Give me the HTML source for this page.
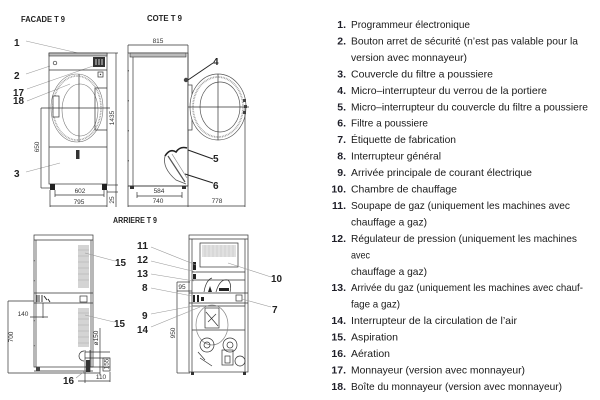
<!DOCTYPE html>
<html><head><meta charset="utf-8"><style>
html,body{margin:0;padding:0;background:#fff;}
svg{display:block;}
.t{font-family:"Liberation Sans",sans-serif;font-size:10.5px;fill:#1a1a1a;}
.n{font-family:"Liberation Sans",sans-serif;font-size:10.5px;font-weight:bold;fill:#1e1e28;}
.lb{font-family:"Liberation Sans",sans-serif;font-size:10px;font-weight:bold;fill:#222;}
.ti{font-family:"Liberation Sans",sans-serif;font-size:8px;font-weight:bold;fill:#222;}
.d{font-family:"Liberation Sans",sans-serif;font-size:6.5px;fill:#333;}
.s{stroke:#333;stroke-width:0.7;fill:none;}
.sw{stroke:#333;stroke-width:0.7;fill:#fff;}
.g{stroke:#999;stroke-width:0.6;fill:none;}
.k{stroke:#222;stroke-width:1;fill:none;}
</style></head><body>
<svg width="600" height="400" viewBox="0 0 600 400" xmlns="http://www.w3.org/2000/svg">
<!-- ===== FACADE ===== -->
<text class="ti" x="21" y="22" textLength="44" lengthAdjust="spacingAndGlyphs">FACADE T 9</text>
<text class="lb" x="14" y="46">1</text>
<text class="lb" x="14" y="79">2</text>
<text class="lb" x="13" y="96" textLength="11" lengthAdjust="spacingAndGlyphs">17</text>
<text class="lb" x="13" y="104" textLength="11" lengthAdjust="spacingAndGlyphs">18</text>
<text class="lb" x="14" y="177">3</text>
<line class="g" x1="26" y1="41" x2="78" y2="53"/>
<line class="g" x1="26" y1="74" x2="50" y2="66"/>
<line class="g" x1="27" y1="89" x2="93" y2="66"/>
<line class="g" x1="27" y1="101" x2="70" y2="84"/>
<line class="g" x1="26" y1="172" x2="60" y2="163"/>
<rect class="s" x="49" y="53" width="58" height="131"/>
<rect x="49" y="53" width="58" height="3" fill="#bbb" stroke="#333" stroke-width="0.6"/>
<line class="s" x1="49" y1="70" x2="107" y2="70"/>
<line class="s" x1="49" y1="147" x2="107" y2="147"/>
<circle class="s" cx="55" cy="63" r="1.8"/>
<rect x="93" y="57" width="12" height="10" fill="#333"/>
<line x1="96" y1="59" x2="96" y2="65" stroke="#fff" stroke-width="0.8"/>
<line x1="99" y1="59" x2="99" y2="65" stroke="#fff" stroke-width="0.8"/>
<line x1="102" y1="59" x2="102" y2="65" stroke="#fff" stroke-width="0.8"/>
<rect class="s" x="98" y="72" width="5" height="5"/>
<circle cx="100.5" cy="74.5" r="0.7" fill="#333"/>
<ellipse cx="77" cy="108" rx="26" ry="34" stroke="#777" stroke-width="0.6" fill="none"/>
<ellipse cx="77" cy="108" rx="24" ry="32" stroke="#999" stroke-width="1.6" stroke-dasharray="0.8 0.8" fill="none"/>
<ellipse cx="80" cy="110" rx="18" ry="26" stroke="#777" stroke-width="0.6" fill="none"/>
<rect class="sw" x="53" y="96" width="6" height="21"/>
<path class="s" d="M107 88 L95 88 L95 130 L107 130" stroke-width="1"/>
<line class="s" x1="79" y1="74" x2="79" y2="142"/>
<line class="s" x1="41" y1="108" x2="110" y2="108"/>
<rect x="76" y="150" width="3.5" height="9" fill="#333"/>
<rect x="50" y="184" width="5" height="6" fill="#222"/>
<rect x="102" y="184" width="5" height="6" fill="#222"/>
<line class="s" x1="41" y1="108" x2="41" y2="188"/>
<line class="s" x1="41" y1="188" x2="50" y2="188"/>
<text class="d" transform="translate(39,147) rotate(-90)" text-anchor="middle">650</text>
<line class="s" x1="116" y1="53" x2="116" y2="207"/>
<line class="s" x1="107" y1="53" x2="118" y2="53"/>
<line class="s" x1="107" y1="185" x2="118" y2="185"/>
<line class="s" x1="107" y1="192" x2="118" y2="192"/>
<text class="d" transform="translate(114,118) rotate(-90)" text-anchor="middle">1435</text>
<text class="d" transform="translate(114,200) rotate(-90)" text-anchor="middle">25</text>
<line class="s" x1="55" y1="195" x2="104" y2="195"/>
<line class="s" x1="55" y1="190" x2="55" y2="197"/>
<line class="s" x1="104" y1="190" x2="104" y2="197"/>
<text class="d" x="80" y="193" text-anchor="middle">602</text>
<line class="s" x1="50" y1="190" x2="50" y2="207"/>
<line class="s" x1="107" y1="190" x2="107" y2="207"/>
<line class="s" x1="50" y1="206" x2="107" y2="206"/>
<text class="d" x="79" y="204" text-anchor="middle">795</text>

<!-- ===== COTE ===== -->
<text class="ti" x="147" y="21" textLength="35" lengthAdjust="spacingAndGlyphs">COTE T 9</text>
<text class="d" x="158" y="43" text-anchor="middle">815</text>
<line class="s" x1="128" y1="45" x2="188" y2="45"/>
<line class="s" x1="128" y1="45" x2="128" y2="53"/>
<rect class="s" x="128" y="53" width="60" height="133"/>
<rect x="130" y="53" width="56" height="4" fill="#bbb" stroke="#333" stroke-width="0.6"/>
<line class="s" x1="133" y1="57" x2="133" y2="186"/>
<line class="s" x1="188" y1="45" x2="188" y2="207"/>
<g fill="#555"><rect x="127.5" y="70" width="1.4" height="1.4"/><rect x="127.5" y="100" width="1.4" height="1.4"/><rect x="127.5" y="130" width="1.4" height="1.4"/><rect x="127.5" y="160" width="1.4" height="1.4"/></g>
<rect class="sw" x="188" y="85" width="4" height="45"/>
<ellipse cx="218" cy="107" rx="28" ry="33" stroke="#555" stroke-width="0.7" fill="#fff"/>
<ellipse cx="218" cy="107" rx="25" ry="30" stroke="#999" stroke-width="1.8" stroke-dasharray="0.8 0.8" fill="none"/>
<ellipse cx="220" cy="107" rx="20" ry="25" stroke="#555" stroke-width="0.7" fill="none"/>
<rect x="243" y="99" width="3" height="3" fill="#444"/>
<rect x="244" y="105" width="3" height="3" fill="#444"/>
<rect x="243" y="111" width="3" height="3" fill="#444"/>
<line class="s" x1="188" y1="107" x2="249" y2="107"/>
<line class="s" x1="218" y1="74" x2="218" y2="140"/>
<circle cx="186" cy="80" r="2.2" fill="#444"/>
<path d="M165 156 Q170 148 176 152 Q180 146 187 148" stroke="#222" stroke-width="1.6" fill="none"/>
<path d="M165 156 Q162 168 176 180 L186 184" stroke="#555" stroke-width="0.8" fill="none"/>
<path d="M168 156 L185 182" stroke="#555" stroke-width="1.2" fill="none"/>
<path d="M172 154 L187 178" stroke="#888" stroke-width="0.7" fill="none"/>
<line class="s" x1="128" y1="186" x2="188" y2="186"/>
<rect x="130" y="186" width="4" height="3" fill="#333"/>
<rect x="182" y="186" width="4" height="3" fill="#333"/>
<text class="lb" x="213" y="65">4</text>
<text class="lb" x="213" y="162">5</text>
<text class="lb" x="213" y="189">6</text>
<line class="k" x1="213" y1="63" x2="188" y2="80"/>
<line class="k" x1="213" y1="159" x2="188" y2="150"/>
<line class="k" x1="213" y1="183" x2="185" y2="174"/>
<text class="d" x="159" y="193" text-anchor="middle">584</text>
<line class="s" x1="137" y1="196" x2="182" y2="196"/>
<line class="s" x1="137" y1="192" x2="137" y2="198"/>
<line class="s" x1="182" y1="192" x2="182" y2="198"/>
<text class="d" x="158" y="203" text-anchor="middle">740</text>
<text class="d" x="217" y="203" text-anchor="middle">778</text>
<line class="s" x1="128" y1="186" x2="128" y2="207"/>
<line class="s" x1="245" y1="107" x2="245" y2="207"/>
<line class="s" x1="128" y1="206" x2="245" y2="206"/>

<!-- ===== ARRIERE 1 ===== -->
<text class="ti" x="113" y="223" textLength="44" lengthAdjust="spacingAndGlyphs">ARRIERE T 9</text>
<rect class="s" x="34" y="235" width="59" height="132"/>
<line class="s" x1="34" y1="240" x2="93" y2="240"/>
<line class="s" x1="36" y1="240" x2="36" y2="367"/>
<line class="s" x1="91" y1="240" x2="91" y2="367"/>
<line class="s" x1="34" y1="293" x2="93" y2="293"/>
<line class="s" x1="34" y1="303" x2="93" y2="303"/>
<rect x="78" y="245" width="11" height="43" fill="#d4d4d4"/>
<rect x="78" y="308" width="11" height="39" fill="#d4d4d4"/>
<g stroke="#aaa" stroke-width="0.5">
<line x1="78" y1="250" x2="89" y2="250"/><line x1="78" y1="256" x2="89" y2="256"/><line x1="78" y1="262" x2="89" y2="262"/><line x1="78" y1="268" x2="89" y2="268"/><line x1="78" y1="274" x2="89" y2="274"/><line x1="78" y1="280" x2="89" y2="280"/>
<line x1="78" y1="313" x2="89" y2="313"/><line x1="78" y1="319" x2="89" y2="319"/><line x1="78" y1="325" x2="89" y2="325"/><line x1="78" y1="331" x2="89" y2="331"/><line x1="78" y1="337" x2="89" y2="337"/><line x1="78" y1="343" x2="89" y2="343"/>
</g>
<g stroke="#222" stroke-width="0.9">
<line x1="37" y1="295" x2="37" y2="302"/><line x1="39" y1="295" x2="39" y2="302"/><line x1="42" y1="295" x2="42" y2="302"/><line x1="44" y1="296" x2="47" y2="300"/><line x1="48" y1="299" x2="50" y2="302"/>
</g>
<rect class="s" x="80" y="296" width="7" height="6"/>
<g fill="#555"><rect x="33.5" y="260" width="1.3" height="1.3"/><rect x="33.5" y="280" width="1.3" height="1.3"/><rect x="33.5" y="320" width="1.3" height="1.3"/><rect x="33.5" y="345" width="1.3" height="1.3"/></g>
<line class="s" x1="34" y1="371" x2="93" y2="371"/>
<rect x="36" y="367" width="4" height="4" fill="#444"/>
<path class="s" d="M84 351 A5 5 0 0 0 84 361"/>
<line class="s" x1="85" y1="350" x2="85" y2="383"/>
<line class="s" x1="90" y1="350" x2="90" y2="372"/>
<line class="s" x1="85" y1="352" x2="110" y2="352"/>
<line class="s" x1="85" y1="358" x2="110" y2="358"/>
<line class="s" x1="85" y1="367" x2="110" y2="367"/>
<line class="s" x1="100" y1="328" x2="100" y2="375"/>
<rect class="s" x="103" y="358" width="7" height="13"/>
<rect x="86" y="360" width="4" height="12" fill="#333"/>
<text class="d" transform="translate(98,338) rotate(-90)" text-anchor="middle">ø150</text>
<text class="d" transform="translate(108.5,364) rotate(-90)" text-anchor="middle">155</text>
<text class="d" x="101" y="379" text-anchor="middle">110</text>
<line class="s" x1="78" y1="381" x2="110" y2="381"/>
<line class="s" x1="110" y1="372" x2="110" y2="382"/>
<line class="s" x1="8" y1="301" x2="8" y2="373"/>
<line class="s" x1="8" y1="301" x2="34" y2="301"/>
<line class="s" x1="8" y1="373" x2="100" y2="373"/>
<text class="d" transform="translate(13,337) rotate(-90)" text-anchor="middle">700</text>
<text class="d" x="23" y="316" text-anchor="middle">140</text>
<line class="s" x1="30" y1="317" x2="48" y2="317"/>
<line class="s" x1="43" y1="303" x2="43" y2="318"/>
<text class="lb" x="115" y="266" textLength="11" lengthAdjust="spacingAndGlyphs">15</text>
<text class="lb" x="114" y="327" textLength="11" lengthAdjust="spacingAndGlyphs">15</text>
<line class="g" x1="115" y1="261" x2="85" y2="253"/>
<line class="g" x1="114" y1="322" x2="85" y2="315"/>
<text class="lb" x="63" y="384" textLength="11" lengthAdjust="spacingAndGlyphs">16</text>
<line class="g" x1="76" y1="378" x2="86" y2="370"/>

<!-- ===== ARRIERE 2 ===== -->
<rect class="s" x="189" y="235" width="59" height="137"/>
<line class="s" x1="189" y1="239" x2="248" y2="239"/>
<line class="s" x1="192" y1="239" x2="192" y2="372"/>
<line class="s" x1="245" y1="239" x2="245" y2="372"/>
<rect class="sw" x="200" y="243" width="38" height="24"/>
<rect x="202" y="245" width="34" height="12" fill="#e0e0e0"/>
<g stroke="#bbb" stroke-width="0.4">
<line x1="205" y1="245" x2="205" y2="257"/><line x1="209" y1="245" x2="209" y2="257"/><line x1="213" y1="245" x2="213" y2="257"/><line x1="217" y1="245" x2="217" y2="257"/><line x1="221" y1="245" x2="221" y2="257"/><line x1="225" y1="245" x2="225" y2="257"/><line x1="229" y1="245" x2="229" y2="257"/><line x1="233" y1="245" x2="233" y2="257"/>
</g>
<line class="s" x1="192" y1="272" x2="245" y2="272"/>
<line class="s" x1="192" y1="280" x2="245" y2="280"/>
<line class="s" x1="189" y1="293" x2="248" y2="293"/>
<line class="s" x1="189" y1="303" x2="248" y2="303"/>
<line class="s" x1="192" y1="306" x2="245" y2="306"/>
<line class="s" x1="192" y1="330" x2="245" y2="330"/>
<rect class="s" x="236" y="295" width="6" height="6"/>
<g fill="#222">
<rect x="193" y="262" width="3" height="8"/><rect x="193" y="274" width="3" height="5"/>
<rect x="193" y="295" width="2" height="7"/><rect x="197" y="295" width="2" height="7"/><rect x="201" y="297" width="3" height="4"/>
<path d="M208 292 L210 286 L212 292 Z"/>
<rect x="219" y="288" width="10" height="3"/>
</g>
<path class="s" d="M204 292 Q206 280 212 278 M216 292 Q220 278 228 280 Q232 284 230 292"/>
<ellipse cx="212" cy="325" rx="16" ry="20" stroke="#888" stroke-width="0.7" fill="none"/>
<rect class="s" x="205" y="308" width="14" height="20"/>
<path class="s" d="M206 312 L218 326 M208 322 L216 314"/>
<circle class="s" cx="207" cy="345" r="7"/>
<circle class="s" cx="207" cy="345" r="3"/>
<circle class="s" cx="230" cy="345" r="7"/>
<circle class="s" cx="230" cy="345" r="3"/>
<rect class="s" x="222" y="350" width="11" height="15"/>
<rect class="s" x="225" y="356" width="5" height="7"/>
<circle class="s" cx="240" cy="361" r="5"/>
<path class="s" d="M200 358 L212 366 M198 352 L205 360"/>
<rect x="191" y="372" width="3" height="3" fill="#333"/>
<rect x="243" y="372" width="3" height="3" fill="#333"/>
<line class="s" x1="177" y1="282" x2="177" y2="373"/>
<line class="s" x1="177" y1="282" x2="190" y2="282"/>
<line class="s" x1="177" y1="373" x2="190" y2="373"/>
<text class="d" transform="translate(175,333) rotate(-90)" text-anchor="middle">950</text>
<text class="d" x="182" y="289" text-anchor="middle">95</text>
<line class="s" x1="177" y1="291" x2="192" y2="291"/>
<text class="lb" x="137" y="249" textLength="11" lengthAdjust="spacingAndGlyphs">11</text>
<text class="lb" x="137" y="263" textLength="11" lengthAdjust="spacingAndGlyphs">12</text>
<text class="lb" x="137" y="277" textLength="11" lengthAdjust="spacingAndGlyphs">13</text>
<text class="lb" x="142" y="291">8</text>
<text class="lb" x="142" y="319">9</text>
<text class="lb" x="137" y="333" textLength="11" lengthAdjust="spacingAndGlyphs">14</text>
<text class="lb" x="271" y="282" textLength="11" lengthAdjust="spacingAndGlyphs">10</text>
<text class="lb" x="272" y="313">7</text>
<line class="g" x1="151" y1="247" x2="196" y2="265"/>
<line class="g" x1="151" y1="261" x2="196" y2="272"/>
<line class="g" x1="151" y1="274" x2="194" y2="281"/>
<line class="g" x1="151" y1="288" x2="192" y2="296"/>
<line class="g" x1="151" y1="314" x2="193" y2="306"/>
<line class="g" x1="151" y1="327" x2="200" y2="307"/>
<line class="g" x1="271" y1="277" x2="228" y2="263"/>
<line class="g" x1="271" y1="307" x2="242" y2="299"/>

<!-- ===== LEGEND ===== -->
<g>
<text class="n" x="346" y="28" text-anchor="end">1.</text><text class="t" x="351" y="28" textLength="119" lengthAdjust="spacingAndGlyphs">Programmeur électronique</text>
<text class="n" x="346" y="44.45" text-anchor="end">2.</text><text class="t" x="351" y="44.45" textLength="227" lengthAdjust="spacingAndGlyphs">Bouton arret de sécurité (n’est pas valable pour la</text>
<text class="t" x="351" y="60.9" textLength="116" lengthAdjust="spacingAndGlyphs">version avec monnayeur)</text>
<text class="n" x="346" y="77.35" text-anchor="end">3.</text><text class="t" x="351" y="77.35" textLength="142" lengthAdjust="spacingAndGlyphs">Couvercle du filtre a poussiere</text>
<text class="n" x="346" y="93.8" text-anchor="end">4.</text><text class="t" x="351" y="93.8" textLength="196" lengthAdjust="spacingAndGlyphs">Micro–interrupteur du verrou de la portiere</text>
<text class="n" x="346" y="110.25" text-anchor="end">5.</text><text class="t" x="351" y="110.25" textLength="237" lengthAdjust="spacingAndGlyphs">Micro–interrupteur du couvercle du filtre a poussiere</text>
<text class="n" x="346" y="126.7" text-anchor="end">6.</text><text class="t" x="351" y="126.7" textLength="77" lengthAdjust="spacingAndGlyphs">Filtre a poussiere</text>
<text class="n" x="346" y="143.15" text-anchor="end">7.</text><text class="t" x="351" y="143.15" textLength="105" lengthAdjust="spacingAndGlyphs">Étiquette de fabrication</text>
<text class="n" x="346" y="159.6" text-anchor="end">8.</text><text class="t" x="351" y="159.6" textLength="90" lengthAdjust="spacingAndGlyphs">Interrupteur général</text>
<text class="n" x="346" y="176.05" text-anchor="end">9.</text><text class="t" x="351" y="176.05" textLength="181" lengthAdjust="spacingAndGlyphs">Arrivée principale de courant électrique</text>
<text class="n" x="346" y="192.5" text-anchor="end">10.</text><text class="t" x="351" y="192.5" textLength="106" lengthAdjust="spacingAndGlyphs">Chambre de chauffage</text>
<text class="n" x="346" y="208.95" text-anchor="end">11.</text><text class="t" x="351" y="208.95" textLength="219" lengthAdjust="spacingAndGlyphs">Soupape de gaz (uniquement les machines avec</text>
<text class="t" x="351" y="225.4" textLength="76" lengthAdjust="spacingAndGlyphs">chauffage a gaz)</text>
<text class="n" x="346" y="241.85" text-anchor="end">12.</text><text class="t" x="351" y="241.85" textLength="226" lengthAdjust="spacingAndGlyphs">Régulateur de pression (uniquement les machines</text>
<text class="t" x="351" y="258.3" textLength="19" lengthAdjust="spacingAndGlyphs">avec</text>
<text class="t" x="351" y="274.75" textLength="76" lengthAdjust="spacingAndGlyphs">chauffage a gaz)</text>
<text class="n" x="346" y="291.2" text-anchor="end">13.</text><text class="t" x="351" y="291.2" textLength="232" lengthAdjust="spacingAndGlyphs">Arrivée du gaz (uniquement les machines avec chauf-</text>
<text class="t" x="351" y="307.65" textLength="49" lengthAdjust="spacingAndGlyphs">fage a gaz)</text>
<text class="n" x="346" y="324.1" text-anchor="end">14.</text><text class="t" x="351" y="324.1" textLength="166" lengthAdjust="spacingAndGlyphs">Interrupteur de la circulation de l’air</text>
<text class="n" x="346" y="340.55" text-anchor="end">15.</text><text class="t" x="351" y="340.55" textLength="47" lengthAdjust="spacingAndGlyphs">Aspiration</text>
<text class="n" x="346" y="357" text-anchor="end">16.</text><text class="t" x="351" y="357" textLength="39" lengthAdjust="spacingAndGlyphs">Aération</text>
<text class="n" x="346" y="373.45" text-anchor="end">17.</text><text class="t" x="351" y="373.45" textLength="174" lengthAdjust="spacingAndGlyphs">Monnayeur (version avec monnayeur)</text>
<text class="n" x="346" y="389.9" text-anchor="end">18.</text><text class="t" x="351" y="389.9" textLength="211" lengthAdjust="spacingAndGlyphs">Boîte du monnayeur (version avec monnayeur)</text>
</g>
</svg>
</body></html>
